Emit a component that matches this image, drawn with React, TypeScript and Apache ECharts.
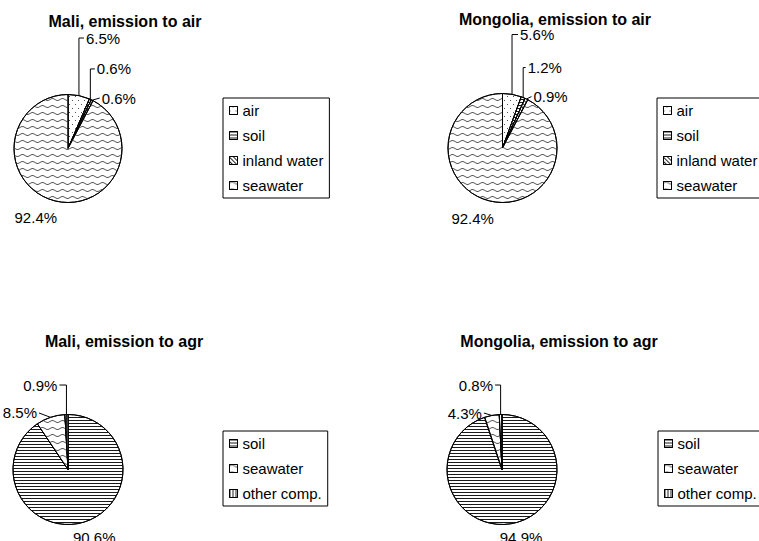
import React, { useEffect, useRef } from 'react';
import * as echarts from 'echarts';

// ---- data ----
const airCategories = ['air', 'soil', 'inland water', 'seawater'];
const maliAirValues = [6.5, 0.6, 0.6, 92.4];
const mongoliaAirValues = [5.6, 1.2, 0.9, 92.4];
const agrCategories = ['soil', 'seawater', 'other comp.'];
const maliAgrValues = [90.6, 8.5, 0.9];
const mongoliaAgrValues = [94.9, 4.3, 0.8];
const chartTitles = [
  'Mali, emission to air',
  'Mongolia, emission to air',
  'Mali, emission to agr',
  'Mongolia, emission to agr',
];

// ---- layout / style ----
const FONT = '"Liberation Sans", Arial, sans-serif';
const TITLE_POS = [[125, 13], [555, 11], [124, 333], [559, 333]];
const LEGEND_POS = [[223, 98], [657, 98], [223, 431], [658, 431]];
const PIE_CENTER = [[68, 148.5], [502.5, 148], [68, 469.5], [502, 469.5]];
const PIE_RADIUS = [54, 54.5, 55, 55];

type Place = { mode: 'elbow' | 'direct' | 'free'; dx: number; dy: number; align?: string };
const LABEL_PLACES: Place[][] = [
  [
    { mode: 'elbow', dx: 7, dy: -57.6 },
    { mode: 'elbow', dx: 6.5, dy: -30.4 },
    { mode: 'direct', dx: 9.5, dy: -2.2 },
    { mode: 'free', dx: 2, dy: 17, align: 'right' },
  ],
  [
    { mode: 'elbow', dx: 8, dy: -59.8 },
    { mode: 'elbow', dx: 4.5, dy: -30 },
    { mode: 'direct', dx: 7, dy: -2.5 },
    { mode: 'free', dx: 4.5, dy: 17.6, align: 'right' },
  ],
  [
    { mode: 'free', dx: -11, dy: 15, align: 'left' },
    { mode: 'direct', dx: -13.5, dy: -4.4 },
    { mode: 'elbow', dx: -9, dy: -29.5 },
  ],
  [
    { mode: 'free', dx: -11, dy: 14.2, align: 'left' },
    { mode: 'direct', dx: -10, dy: -2.4 },
    { mode: 'elbow', dx: -7.6, dy: -29.5 },
  ],
];

const DECALS: Record<string, any> = {
  air: {
    symbol: 'rect', symbolSize: 1, symbolKeepAspect: false, color: '#555',
    dashArrayX: [[1, 5], [0, 3, 1, 2]], dashArrayY: [1, 3],
  },
  soil: {
    symbol: 'rect', symbolSize: 1, symbolKeepAspect: false, color: '#1a1a1a',
    dashArrayX: [20, 0], dashArrayY: [1, 2],
  },
  'inland water': {
    symbol: 'rect', symbolSize: 1, symbolKeepAspect: false, color: '#222',
    dashArrayX: [20, 0], dashArrayY: [1, 2], rotation: Math.PI / 4,
  },
  seawater: {
    symbol: 'path://M0,1 Q2.5,-1 5,1 T10,1 L10,2 Q7.5,4 5,2 T0,2 Z',
    symbolSize: 1, symbolKeepAspect: false, color: '#555',
    dashArrayX: [10, 0], dashArrayY: [3, 4],
  },
  'other comp.': {
    symbol: 'rect', symbolSize: 1, symbolKeepAspect: false, color: '#222',
    dashArrayX: [1, 2], dashArrayY: [20, 0],
  },
};

const makeLabelLayout = (places: Place[]) => (params: any) => {
  const p = places[params.dataIndex];
  const pts = params.labelLinePoints;
  if (!p || !pts) return {};
  const x0 = pts[0][0];
  const y0 = pts[0][1];
  const lx = x0 + p.dx;
  const ly = y0 + p.dy;
  const sgn = p.dx >= 0 ? 1 : -1;
  const align = p.align || (sgn > 0 ? 'left' : 'right');
  let line: number[][];
  if (p.mode === 'elbow') line = [[x0, y0], [x0, ly], [lx - 2 * sgn, ly]];
  else if (p.mode === 'direct') line = [[x0, y0], [x0, y0], [lx - 2 * sgn, ly]];
  else line = [[x0, y0], [x0, y0], [x0, y0]];
  return { x: lx, y: ly, align, verticalAlign: 'middle', labelLinePoints: line };
};

const pieSeries = (idx: number, names: string[], values: number[]) => ({
  type: 'pie',
  center: PIE_CENTER[idx],
  radius: PIE_RADIUS[idx],
  startAngle: 90,
  clockwise: true,
  avoidLabelOverlap: false,
  silent: true,
  label: {
    show: true,
    position: 'outside',
    fontSize: 15,
    color: '#000',
    fontFamily: FONT,
    formatter: (p: any) => `${Number(p.value).toFixed(1)}%`,
  },
  labelLine: { show: true, length: 10, length2: 5, smooth: false, lineStyle: { color: '#000', width: 1 } },
  labelLayout: makeLabelLayout(LABEL_PLACES[idx]),
  data: names.map((n, i) => ({
    name: n,
    value: values[i],
    itemStyle: { color: '#ffffff', borderColor: '#000', borderWidth: 1, decal: DECALS[n] },
  })),
});

const option: any = {
  animation: false,
  backgroundColor: '#fff',
  textStyle: { fontFamily: FONT },
  title: chartTitles.map((t, i) => ({
    text: t,
    left: TITLE_POS[i][0],
    top: TITLE_POS[i][1],
    textAlign: 'center',
    padding: 0,
    textStyle: { fontSize: 16, fontWeight: 'bold', color: '#000', fontFamily: FONT },
  })),
  legend: LEGEND_POS.map((pos, i) => ({
    orient: 'vertical',
    left: pos[0],
    top: pos[1],
    data: i < 2 ? airCategories : agrCategories,
    icon: 'rect',
    itemWidth: 8,
    itemHeight: 8,
    itemGap: 10,
    padding: [5, 6, 5, 6],
    borderColor: '#000',
    borderWidth: 1,
    borderRadius: 0,
    backgroundColor: '#fff',
    selectedMode: false,
    textStyle: { fontSize: 15, color: '#000', fontFamily: FONT },
    itemStyle: { borderColor: '#000', borderWidth: 1 },
  })),
  series: [
    pieSeries(0, airCategories, maliAirValues),
    pieSeries(1, airCategories, mongoliaAirValues),
    pieSeries(2, agrCategories, maliAgrValues),
    pieSeries(3, agrCategories, mongoliaAgrValues),
  ],
};

export default function App() {
  const ref = useRef<HTMLDivElement>(null);
  useEffect(() => {
    if (!ref.current) return;
    const chart = echarts.init(ref.current, null, { renderer: 'svg' });
    chart.setOption(option);
    return () => chart.dispose();
  }, []);
  return (
    <div
      ref={ref}
      style={{ position: 'absolute', left: 0, top: 0, width: 759, height: 541, background: '#fff' }}
    />
  );
}
